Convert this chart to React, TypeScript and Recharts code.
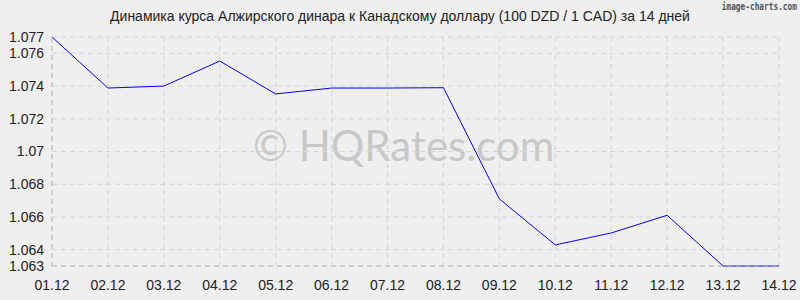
import { CartesianGrid, Line, LineChart, XAxis, YAxis } from 'recharts'

const dates = ['01.12', '02.12', '03.12', '04.12', '05.12', '06.12', '07.12', '08.12', '09.12', '10.12', '11.12', '12.12', '13.12', '14.12']
const rates = [1.077, 1.07388, 1.074, 1.07553, 1.07352, 1.07388, 1.07388, 1.0739, 1.0671, 1.06429, 1.06502, 1.0661, 1.063, 1.063]
const yTicks = [1.063, 1.064, 1.066, 1.068, 1.07, 1.072, 1.074, 1.076, 1.077]

const data = dates.map((date, i) => ({ date, rate: rates[i] }))

const FONT = '"Liberation Sans", Arial, sans-serif'

export default function App() {
  return (
    <div style={{ position: 'absolute', left: 0, top: 0, width: 800, height: 300, background: '#efefef', fontFamily: FONT }}>
      <div style={{ position: 'absolute', left: 0, top: 8, width: 800, textAlign: 'center', fontSize: 14, color: '#222' }}>
        Динамика курса Алжирского динара к Канадскому доллару (100 DZD / 1 CAD) за 14 дней
      </div>
      {/* narrow stamp in the corner */}
      <div
        style={{
          position: 'absolute',
          right: 3,
          top: 0,
          fontSize: 11,
          fontWeight: 'bold',
          color: '#555',
          fontFamily: '"DejaVu Sans Mono", monospace',
          transform: 'scaleX(0.71)',
          transformOrigin: 'right top',
          whiteSpace: 'nowrap',
        }}
      >
        image-charts.com
      </div>
      <div style={{ position: 'absolute', left: 253, top: 120, fontSize: 42, lineHeight: 1.2, color: '#c8c8c8', fontFamily: 'Lato, sans-serif', whiteSpace: 'nowrap' }}>
        © HQRates.com
      </div>
      <LineChart width={800} height={300} data={data} margin={{ top: 37, right: 21, bottom: 0, left: 0 }} style={{ position: 'absolute', left: 0, top: 0 }}>
        <CartesianGrid stroke="#d4d4d4" strokeDasharray="5 4" />
        <XAxis
          dataKey="date"
          height={34}
          tickLine={false}
          tickSize={0}
          tickMargin={14}
          axisLine={{ stroke: '#bbbbbb', strokeDasharray: '5 4' }}
          tick={{ fill: '#222', fontSize: 14, fontFamily: FONT }}
          interval={0}
        />
        <YAxis
          width={52}
          domain={[1.063, 1.077]}
          ticks={yTicks}
          tickLine={false}
          tickSize={0}
          tickMargin={8}
          axisLine={{ stroke: '#bbbbbb', strokeDasharray: '5 4' }}
          tick={{ fill: '#222', fontSize: 14, fontFamily: FONT }}
          tickFormatter={(v) => String(v)}
          interval={0}
        />
        <Line type="linear" dataKey="rate" stroke="#0000ff" strokeWidth={1} dot={false} isAnimationActive={false} />
      </LineChart>
    </div>
  )
}
